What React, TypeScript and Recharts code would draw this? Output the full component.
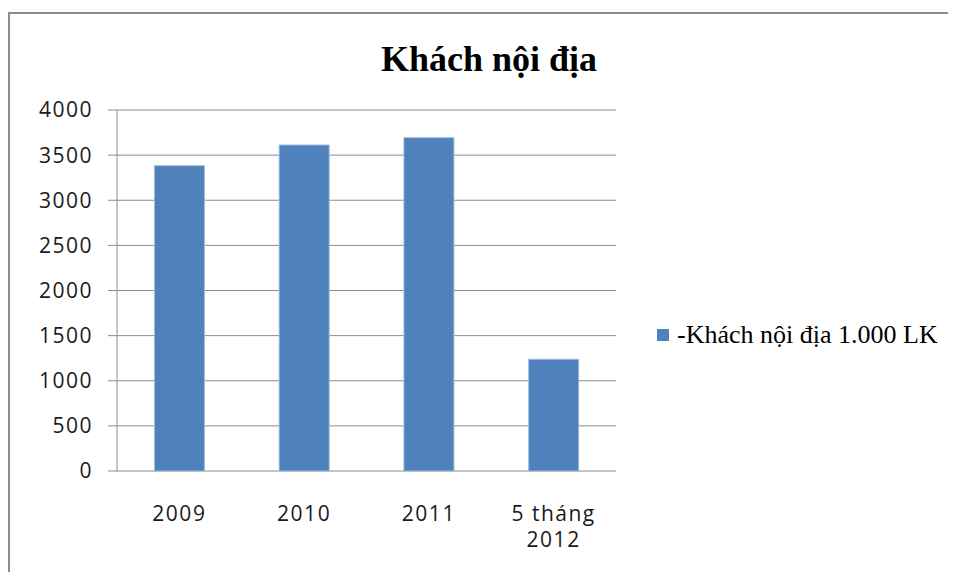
import { BarChart, Bar, XAxis, YAxis, CartesianGrid, Legend } from "recharts";

const categories = ["2009", "2010", "2011", "5 tháng 2012"];
const visitors = [3383, 3612, 3693, 1238];
const yTicks = [0, 500, 1000, 1500, 2000, 2500, 3000, 3500, 4000];
const edgeTicks = [0, 1, 2, 3, 4];
const seriesName = "-Khách nội địa 1.000 LK";
const title = "Khách nội địa";

const data = categories.map((c, i) => ({ name: c, value: visitors[i] }));

const sans = "'Open Sans', sans-serif";
const serif = "'Liberation Serif', 'Times New Roman', serif";
const axisGray = "#8c8c8c";

// long labels go on two lines, last word below
function splitLabel(s: string) {
  const cut = s.lastIndexOf(" ");
  if (s.length <= 6 || cut < 0) return [s];
  return [s.slice(0, cut), s.slice(cut + 1)];
}

function CatTick(props: any) {
  const { x, y, payload } = props;
  const lines = splitLabel(String(payload.value));
  return (
    <text
      x={x}
      y={y + 50}
      textAnchor="middle"
      fill="#1a1a1a"
      style={{ fontFamily: sans, fontSize: 21, letterSpacing: 1.5 }}
    >
      {lines.map((l, i) => (
        <tspan key={i} x={x} dy={i === 0 ? 0 : 26}>
          {l}
        </tspan>
      ))}
    </text>
  );
}

function LegendBox(props: any) {
  const items = props.payload || [];
  return (
    <div>
      {items.map((it: any) => (
        <div key={it.value} style={{ display: "flex", alignItems: "center" }}>
          <span
            style={{
              display: "inline-block",
              width: 12,
              height: 12,
              background: "#4f81bd",
              marginRight: 8,
            }}
          />
          <span style={{ fontFamily: serif, fontSize: 26, lineHeight: "30px", color: "#000", whiteSpace: "nowrap" }}>
            {it.value}
          </span>
        </div>
      ))}
    </div>
  );
}

export default function App() {
  return (
    <div style={{ paddingTop: 4 }}>
      <div
        style={{
          position: "relative",
          width: 946,
          height: 558,
          borderTop: `2px solid ${axisGray}`,
          borderLeft: `2px solid ${axisGray}`,
        }}
      >
        <div
          style={{
            position: "absolute",
            left: 279,
            top: 25,
            width: 400,
            textAlign: "center",
            fontFamily: serif,
            fontWeight: "bold",
            fontSize: 36,
            lineHeight: "40px",
            color: "#000",
            zIndex: 1,
          }}
        >
          {title}
        </div>
        <BarChart
          width={938}
          height={558}
          data={data}
          margin={{ top: 96, right: 332, bottom: 61, left: 0 }}
          barCategoryGap="30%"
        >
          <CartesianGrid vertical={false} stroke={axisGray} />
          <XAxis
            xAxisId="edges"
            type="number"
            domain={[0, 4]}
            ticks={edgeTicks}
            height={0}
            tickSize={8}
            tickFormatter={() => ""}
            stroke={axisGray}
          />
          <XAxis
            dataKey="name"
            height={40}
            tickLine={false}
            axisLine={false}
            tickSize={0}
            tickMargin={0}
            interval={0}
            tick={<CatTick />}
          />
          <YAxis
            domain={[0, 4000]}
            ticks={yTicks}
            width={107}
            tickSize={9}
            tickMargin={15}
            stroke={axisGray}
            tick={{ fill: "#1a1a1a", fontFamily: sans, fontSize: 21, letterSpacing: 1.5 }}
          />
          <Legend
            layout="horizontal"
            verticalAlign="middle"
            align="center"
            wrapperStyle={{ left: 647, top: 306, width: "auto" }}
            content={<LegendBox />}
          />
          <Bar
            dataKey="value"
            name={seriesName}
            fill="#4f81bd"
            stroke="#9fb9dd"
            strokeWidth={1}
            isAnimationActive={false}
          />
        </BarChart>
      </div>
    </div>
  );
}
